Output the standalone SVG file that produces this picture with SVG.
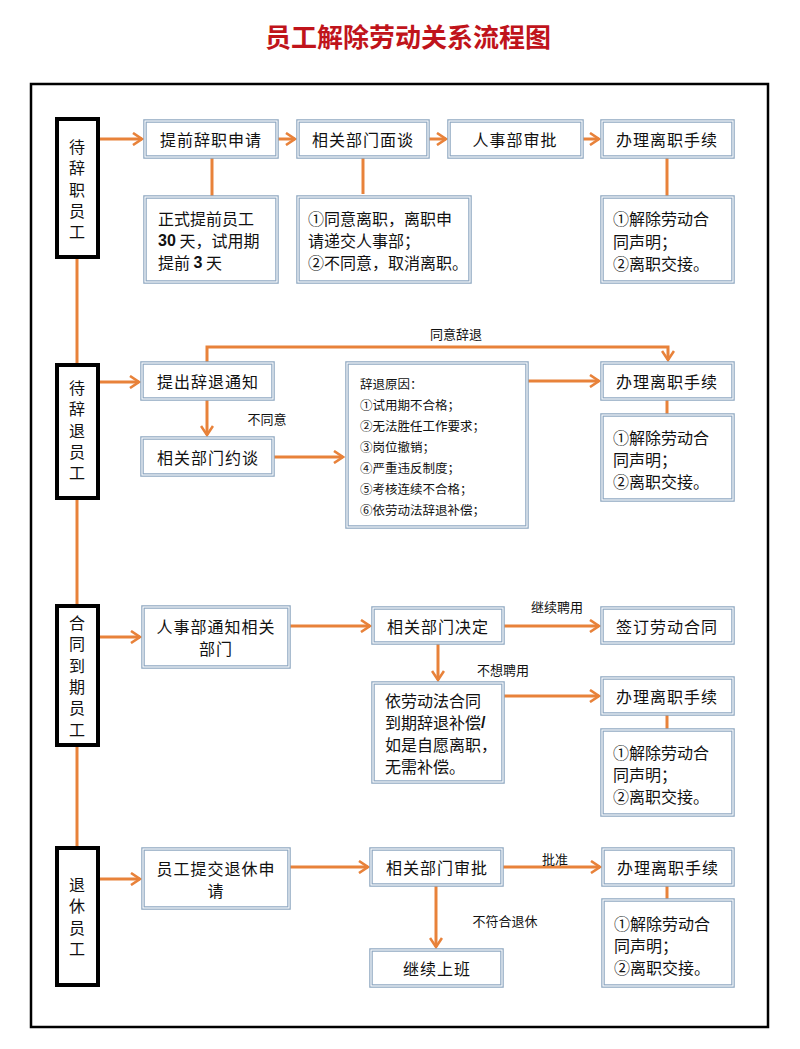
<svg xmlns="http://www.w3.org/2000/svg" width="800" height="1049" viewBox="0 0 800 1049">
<style>
.b{fill:#fff;stroke:#8da6c0;stroke-width:3.5}
.bi{fill:none;stroke:#fff;stroke-width:1.1}
.lane{fill:#fff;stroke:#000;stroke-width:4}
.c{stroke:#e8823a;stroke-width:3;fill:none}
.t{font-family:"Noto Sans CJK SC","Noto Sans",sans-serif;font-size:16px;fill:#111;dominant-baseline:central}
.m{text-anchor:middle;letter-spacing:1px}
.s{font-size:12.5px}
.l{font-size:13px;text-anchor:middle}
.v{font-family:"Noto Sans CJK SC","Noto Sans",sans-serif;font-size:16px;fill:#111;writing-mode:vertical-rl;letter-spacing:5.3px}
.num{font-family:"Liberation Sans",sans-serif;font-weight:bold}
</style>
<defs>
<marker id="ah" markerWidth="12" markerHeight="14" refX="10" refY="7" orient="auto" markerUnits="userSpaceOnUse">
<path d="M1,1 L10,7 L1,13" fill="none" stroke="#e8823a" stroke-width="2.6"/>
</marker>
</defs>
<rect width="800" height="1049" fill="#fff"/>
<text x="408" y="35" text-anchor="middle" dominant-baseline="central" font-family="Noto Sans CJK SC,sans-serif" font-size="26" font-weight="bold" fill="#c0141b">员工解除劳动关系流程图</text>
<rect x="31" y="84" width="737" height="943" fill="none" stroke="#000" stroke-width="2.5"/>

<g id="connectors">
<line class="c" x1="77" y1="257" x2="77" y2="365"/>
<line class="c" x1="77" y1="498" x2="77" y2="606"/>
<line class="c" x1="77" y1="745" x2="77" y2="848"/>
<line class="c" x1="98" y1="139" x2="142" y2="139" marker-end="url(#ah)"/>
<line class="c" x1="277" y1="139" x2="295" y2="139" marker-end="url(#ah)"/>
<line class="c" x1="428" y1="139" x2="446" y2="139" marker-end="url(#ah)"/>
<line class="c" x1="582" y1="139" x2="599" y2="139" marker-end="url(#ah)"/>
<line class="c" x1="212" y1="157" x2="212" y2="197"/>
<line class="c" x1="363" y1="157" x2="363" y2="194"/>
<line class="c" x1="667" y1="157" x2="667" y2="197"/>

<line class="c" x1="98" y1="382" x2="139" y2="382" marker-end="url(#ah)"/>
<path class="c" d="M207,363 V347 H668 V360" marker-end="url(#ah)"/>
<line class="c" x1="207" y1="399" x2="207" y2="435" marker-end="url(#ah)"/>
<line class="c" x1="273" y1="457" x2="343" y2="457" marker-end="url(#ah)"/>
<line class="c" x1="527" y1="381" x2="599" y2="381" marker-end="url(#ah)"/>
<line class="c" x1="667" y1="399" x2="667" y2="415"/>

<line class="c" x1="98" y1="637" x2="140" y2="637" marker-end="url(#ah)"/>
<line class="c" x1="289" y1="626" x2="370" y2="626" marker-end="url(#ah)"/>
<line class="c" x1="503" y1="626" x2="599" y2="626" marker-end="url(#ah)"/>
<line class="c" x1="438" y1="643" x2="438" y2="680" marker-end="url(#ah)"/>
<line class="c" x1="503" y1="696" x2="599" y2="696" marker-end="url(#ah)"/>
<line class="c" x1="667" y1="714" x2="667" y2="730"/>

<line class="c" x1="98" y1="879" x2="140" y2="879" marker-end="url(#ah)"/>
<line class="c" x1="289" y1="867" x2="368" y2="867" marker-end="url(#ah)"/>
<line class="c" x1="502" y1="867" x2="600" y2="867" marker-end="url(#ah)"/>
<line class="c" x1="436" y1="885" x2="436" y2="947" marker-end="url(#ah)"/>
<line class="c" x1="667" y1="885" x2="667" y2="900"/>

<text class="t l" x="456" y="333">同意辞退</text>
<text class="t l" x="267" y="418">不同意</text>
<text class="t l" x="557" y="606">继续聘用</text>
<text class="t l" x="503" y="669">不想聘用</text>
<text class="t l" x="555" y="858">批准</text>
<text class="t l" x="505" y="920">不符合退休</text>
</g>

<g id="lane1"><rect class="lane" x="57" y="119" width="41" height="138"/>
<text class="v" x="77" y="139">待辞职员工</text></g>
<g id="lane2"><rect class="lane" x="57" y="365" width="41" height="133"/>
<text class="v" x="77" y="380">待辞退员工</text></g>
<g id="lane3"><rect class="lane" x="57" y="606" width="41" height="139"/>
<text class="v" x="77" y="615">合同到期员工</text></g>
<g id="lane4"><rect class="lane" x="57" y="848" width="41" height="137"/>
<text class="v" x="77" y="877">退休员工</text></g>

<g id="a1"><rect class="b" x="145" y="121" width="132" height="36"/><rect class="bi" x="145" y="121" width="132" height="36"/><text class="t m" x="211" y="139">提前辞职申请</text></g>
<g id="a2"><rect class="b" x="298" y="121" width="130" height="36"/><rect class="bi" x="298" y="121" width="130" height="36"/><text class="t m" x="363" y="139">相关部门面谈</text></g>
<g id="a3"><rect class="b" x="449" y="121" width="133" height="36"/><rect class="bi" x="449" y="121" width="133" height="36"/><text class="t m" x="515" y="139">人事部审批</text></g>
<g id="a4"><rect class="b" x="602" y="121" width="131" height="36"/><rect class="bi" x="602" y="121" width="131" height="36"/><text class="t m" x="667" y="139">办理离职手续</text></g>
<g id="b1"><rect class="b" x="145" y="197" width="132" height="85"/><rect class="bi" x="145" y="197" width="132" height="85"/>
<text class="t" x="158" y="218">正式提前员工<tspan x="158" dy="22"><tspan class="num">30</tspan> 天，试用期</tspan><tspan x="158" dy="22">提前 <tspan class="num">3</tspan> 天</tspan></text></g>
<g id="b2"><rect class="b" x="298" y="197" width="172" height="85"/><rect class="bi" x="298" y="197" width="172" height="85"/>
<text class="t" x="308" y="218">①同意离职，离职申<tspan x="308" dy="22">请递交人事部；</tspan><tspan x="308" dy="22">②不同意，取消离职。</tspan></text></g>
<g id="b4"><rect class="b" x="602" y="197" width="131" height="85"/><rect class="bi" x="602" y="197" width="131" height="85"/>
<text class="t" x="613" y="218">①解除劳动合<tspan x="613" dy="22.5">同声明；</tspan><tspan x="613" dy="22">②离职交接。</tspan></text></g>

<g id="c1"><rect class="b" x="142" y="363" width="131" height="36"/><rect class="bi" x="142" y="363" width="131" height="36"/><text class="t m" x="208" y="381">提出辞退通知</text></g>
<g id="c2"><rect class="b" x="142" y="438" width="131" height="37"/><rect class="bi" x="142" y="438" width="131" height="37"/><text class="t m" x="208" y="457">相关部门约谈</text></g>
<g id="c3"><rect class="b" x="347" y="363" width="180" height="164"/><rect class="bi" x="347" y="363" width="180" height="164"/>
<text class="t s" x="360" y="383">辞退原因：<tspan x="360" dy="21">①试用期不合格；</tspan><tspan x="360" dy="21">②无法胜任工作要求；</tspan><tspan x="360" dy="21">③岗位撤销；</tspan><tspan x="360" dy="21">④严重违反制度；</tspan><tspan x="360" dy="21">⑤考核连续不合格；</tspan><tspan x="360" dy="21">⑥依劳动法辞退补偿；</tspan></text></g>
<g id="c4"><rect class="b" x="602" y="363" width="131" height="36"/><rect class="bi" x="602" y="363" width="131" height="36"/><text class="t m" x="667" y="381">办理离职手续</text></g>
<g id="c5"><rect class="b" x="602" y="415" width="131" height="85"/><rect class="bi" x="602" y="415" width="131" height="85"/>
<text class="t" x="613" y="437">①解除劳动合<tspan x="613" dy="22">同声明；</tspan><tspan x="613" dy="22">②离职交接。</tspan></text></g>

<g id="d1"><rect class="b" x="143" y="607" width="146" height="60"/><rect class="bi" x="143" y="607" width="146" height="60"/>
<text class="t m" x="216" y="626">人事部通知相关<tspan x="216" dy="22">部门</tspan></text></g>
<g id="d2"><rect class="b" x="373" y="608" width="130" height="35"/><rect class="bi" x="373" y="608" width="130" height="35"/><text class="t m" x="438" y="626">相关部门决定</text></g>
<g id="d3"><rect class="b" x="602" y="608" width="131" height="35"/><rect class="bi" x="602" y="608" width="131" height="35"/><text class="t m" x="667" y="626">签订劳动合同</text></g>
<g id="d4"><rect class="b" x="373" y="683" width="130" height="99"/><rect class="bi" x="373" y="683" width="130" height="99"/>
<text class="t" x="385" y="700">依劳动法合同<tspan x="385" dy="22">到期辞退补偿<tspan class="num">/</tspan></tspan><tspan x="385" dy="22">如是自愿离职，</tspan><tspan x="385" dy="22">无需补偿。</tspan></text></g>
<g id="d5"><rect class="b" x="602" y="678" width="131" height="36"/><rect class="bi" x="602" y="678" width="131" height="36"/><text class="t m" x="667" y="696">办理离职手续</text></g>
<g id="d6"><rect class="b" x="602" y="730" width="131" height="85"/><rect class="bi" x="602" y="730" width="131" height="85"/>
<text class="t" x="613" y="752">①解除劳动合<tspan x="613" dy="22">同声明；</tspan><tspan x="613" dy="22">②离职交接。</tspan></text></g>

<g id="e1"><rect class="b" x="143" y="849" width="146" height="59"/><rect class="bi" x="143" y="849" width="146" height="59"/>
<text class="t m" x="216" y="868">员工提交退休申<tspan x="216" dy="22">请</tspan></text></g>
<g id="e2"><rect class="b" x="371" y="849" width="131" height="36"/><rect class="bi" x="371" y="849" width="131" height="36"/><text class="t m" x="437" y="867">相关部门审批</text></g>
<g id="e3"><rect class="b" x="603" y="849" width="130" height="36"/><rect class="bi" x="603" y="849" width="130" height="36"/><text class="t m" x="668" y="867">办理离职手续</text></g>
<g id="e4"><rect class="b" x="603" y="900" width="130" height="86"/><rect class="bi" x="603" y="900" width="130" height="86"/>
<text class="t" x="614" y="923">①解除劳动合<tspan x="614" dy="22">同声明；</tspan><tspan x="614" dy="22">②离职交接。</tspan></text></g>
<g id="e5"><rect class="b" x="371" y="950" width="131" height="36"/><rect class="bi" x="371" y="950" width="131" height="36"/><text class="t m" x="437" y="968">继续上班</text></g>
</svg>
